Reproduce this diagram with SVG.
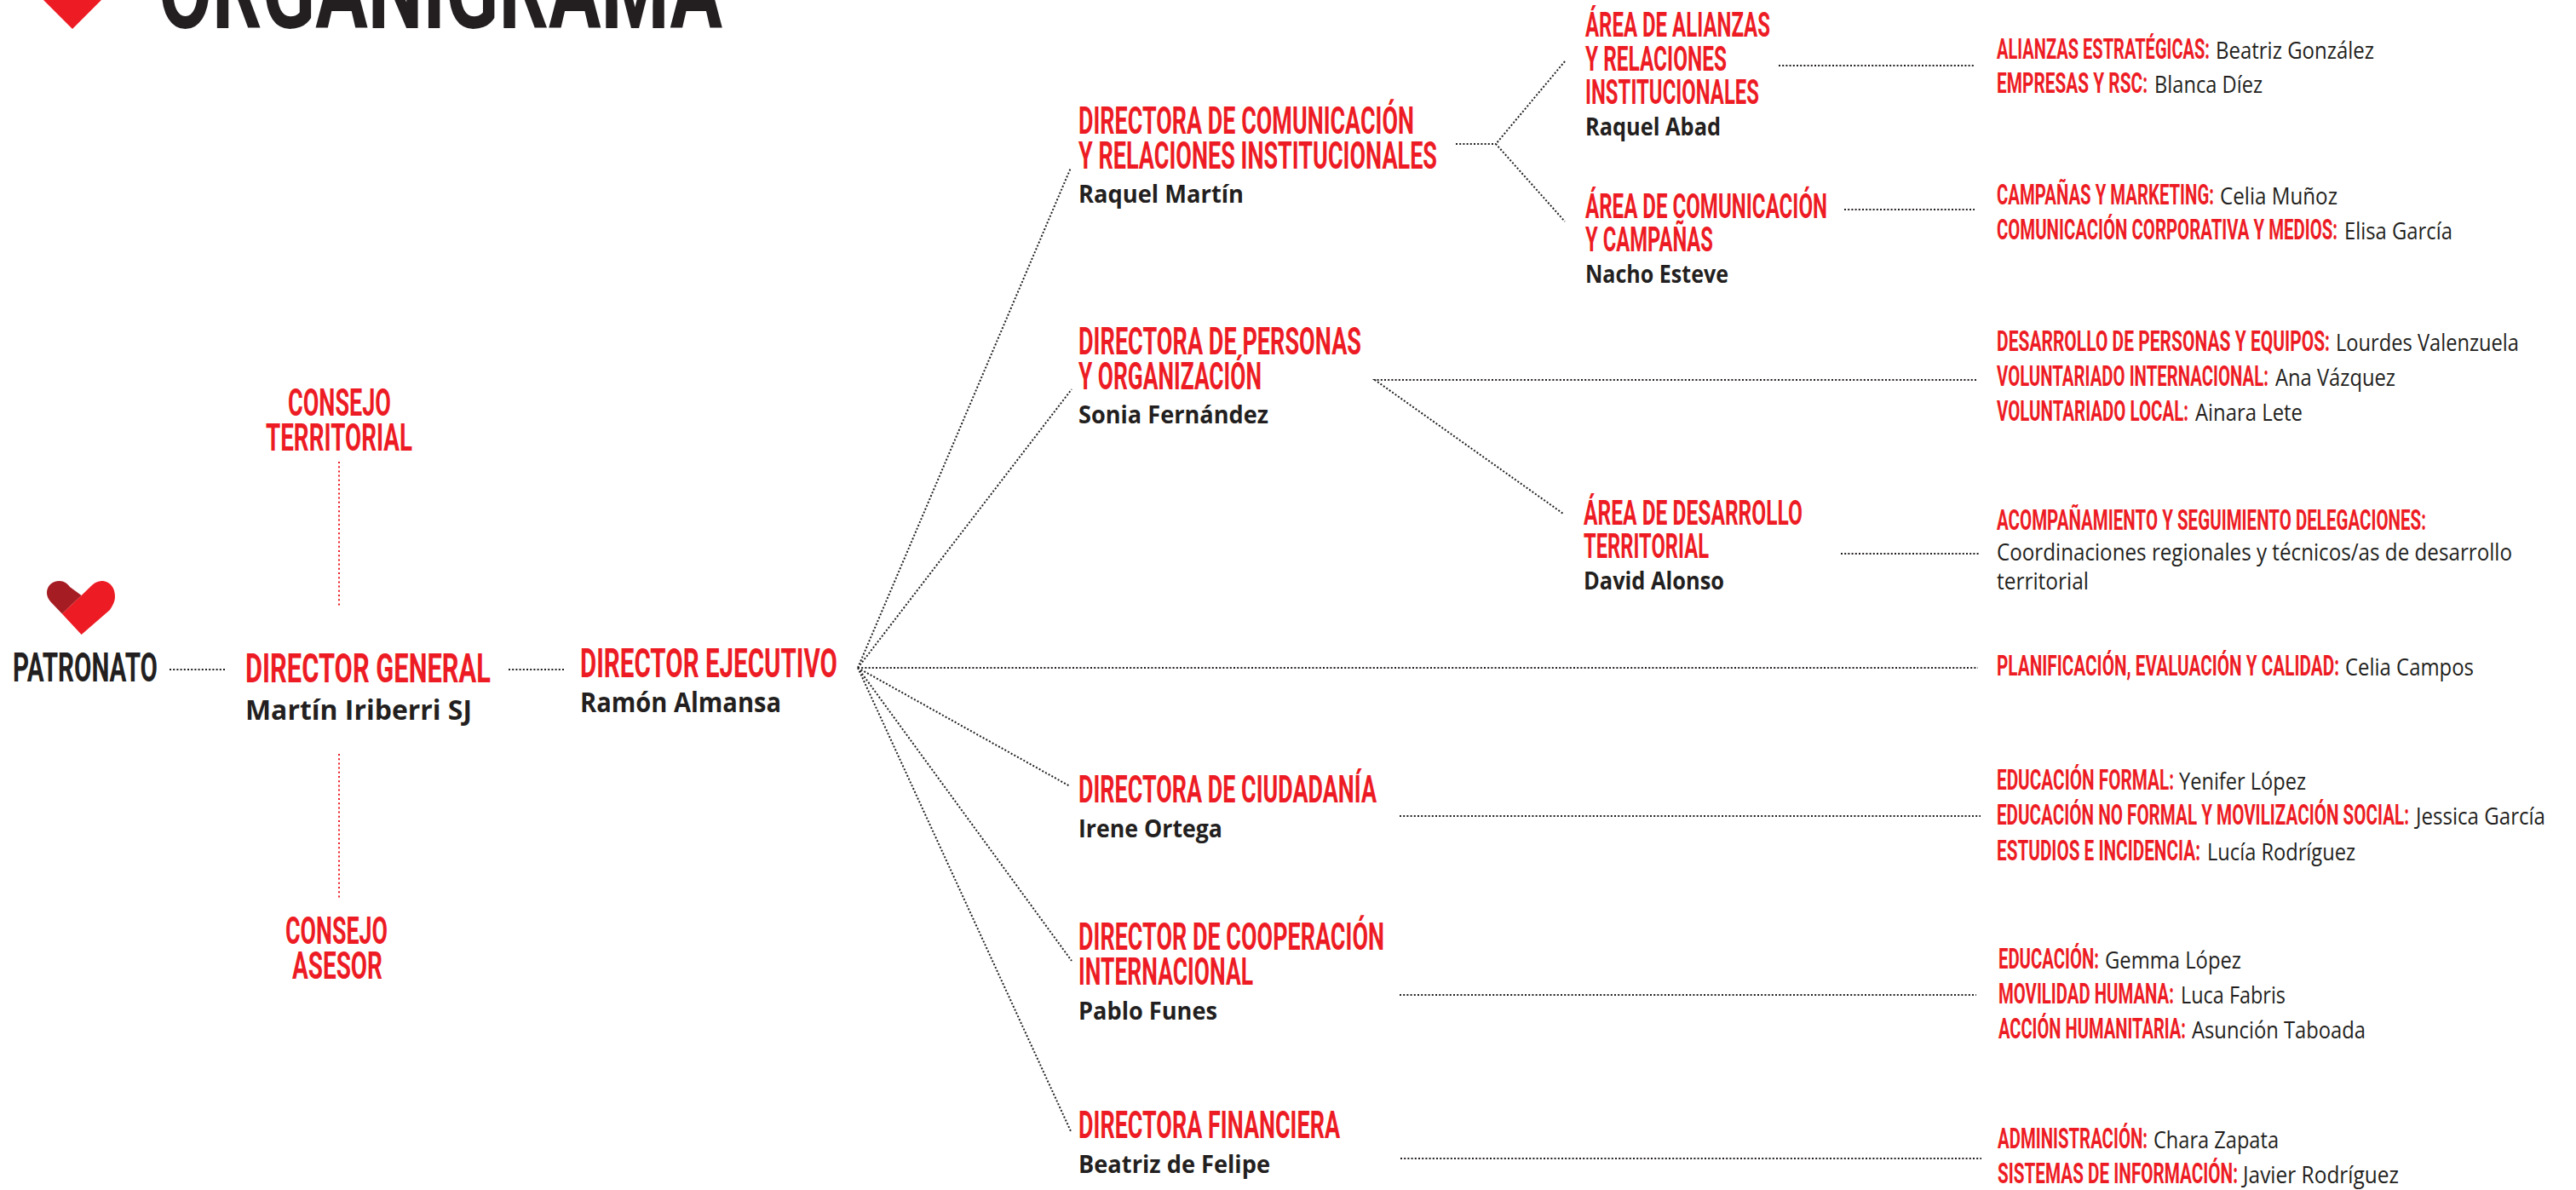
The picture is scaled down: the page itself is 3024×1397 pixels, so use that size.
<svg xmlns="http://www.w3.org/2000/svg" width="3024" height="1397" viewBox="0 0 3024 1397">
<style>
text{white-space:pre}
.h{font-family:"Roboto","Liberation Sans",sans-serif;font-weight:700;fill:#ed1c24}
.k{fill:#231f20}
.s1{font-size:49px}.s2{font-size:44px}.s3{font-size:40px}.s4{font-size:33px}
.n{font-family:"Open Sans","Liberation Sans",sans-serif;font-weight:700;fill:#231f20}
.l{font-family:"Open Sans","Liberation Sans",sans-serif;font-weight:400;fill:#231f20;font-size:27px}
.r{font-family:"Roboto","Liberation Sans",sans-serif;font-weight:700;fill:#ed1c24;font-size:33px}
.d{fill:none;stroke:#231f20;stroke-width:2;stroke-dasharray:2 2.2}
.dr{fill:none;stroke:#ed1c24;stroke-width:2;stroke-dasharray:2 3.2}
</style>
<rect width="3024" height="1397" fill="#ffffff"/>
<g id="titulo">
<path d="M51 0L85 34L119 0L130 -20L40 -20Z" fill="#ed1c24"/>
<text class="h k" x="186" y="33" font-size="130" textLength="662" lengthAdjust="spacingAndGlyphs">ORGANIGRAMA</text>
</g>
<g id="conectores">
<path class="d" d="M199 786H266M597 786H663"/>
<path class="dr" d="M398 542V713M398 885V1056"/>
<path class="d" d="M1007 784H2322M1007 784L1257 197M1007 784L1258 457M1007 784L1256 923M1007 784L1258 1128M1007 784L1257 1328"/>
<path class="d" d="M1709 169H1756M1837 72L1756 169L1837 260"/>
<path class="d" d="M2088 77H2318M2165 246H2318"/>
<path class="d" d="M2320 446H1614L1835 603"/>
<path class="d" d="M2161 650H2323M1643 958H2325M1643 1168H2320M1644 1360H2326"/>
</g>
<g id="patronato">
<path d="M95.6 745L72.8 720.6L95.6 699L108 687C112 683 117 682 121 682C130 683 135 691 135 700C135 707 132 711 129 716Z" fill="#ed1c24"/>
<path d="M95.6 699L72.8 720.6L59 706C56 702 55 699 55 696C55 688 61 682 70 682C75 682 79 685 82 689Z" fill="#a51c22"/>
<text class="h k s1" x="15" y="800" textLength="170" lengthAdjust="spacingAndGlyphs">PATRONATO</text>
</g>
<g id="consejo-territorial">
<text class="h s2" x="338" y="488" textLength="121" lengthAdjust="spacingAndGlyphs">CONSEJO</text>
<text class="h s2" x="312" y="529" textLength="172" lengthAdjust="spacingAndGlyphs">TERRITORIAL</text>
</g>
<g id="consejo-asesor">
<text class="h s2" x="335" y="1108" textLength="120" lengthAdjust="spacingAndGlyphs">CONSEJO</text>
<text class="h s2" x="343" y="1149" textLength="106" lengthAdjust="spacingAndGlyphs">ASESOR</text>
</g>
<g id="director-general">
<text class="h s1" x="288" y="801" textLength="288" lengthAdjust="spacingAndGlyphs">DIRECTOR GENERAL</text>
<text class="n" font-size="33" x="288" y="845" textLength="266" lengthAdjust="spacingAndGlyphs">Martín Iriberri SJ</text>
</g>
<g id="director-ejecutivo">
<text class="h s1" x="681" y="795" textLength="302" lengthAdjust="spacingAndGlyphs">DIRECTOR EJECUTIVO</text>
<text class="n" font-size="33" x="681" y="836" textLength="236" lengthAdjust="spacingAndGlyphs">Ramón Almansa</text>
</g>
<g id="directora-comunicacion">
<text class="h s2" x="1266" y="157" textLength="394" lengthAdjust="spacingAndGlyphs">DIRECTORA DE COMUNICACIÓN</text>
<text class="h s2" x="1266" y="198" textLength="421" lengthAdjust="spacingAndGlyphs">Y RELACIONES INSTITUCIONALES</text>
<text class="n" font-size="29" x="1266" y="238" textLength="194" lengthAdjust="spacingAndGlyphs">Raquel Martín</text>
</g>
<g id="directora-personas">
<text class="h s2" x="1266" y="416" textLength="332" lengthAdjust="spacingAndGlyphs">DIRECTORA DE PERSONAS</text>
<text class="h s2" x="1266" y="457" textLength="215" lengthAdjust="spacingAndGlyphs">Y ORGANIZACIÓN</text>
<text class="n" font-size="29" x="1266" y="497" textLength="223" lengthAdjust="spacingAndGlyphs">Sonia Fernández</text>
</g>
<g id="directora-ciudadania">
<text class="h s2" x="1266" y="942" textLength="350" lengthAdjust="spacingAndGlyphs">DIRECTORA DE CIUDADANÍA</text>
<text class="n" font-size="29" x="1266" y="983" textLength="169" lengthAdjust="spacingAndGlyphs">Irene Ortega</text>
</g>
<g id="director-cooperacion">
<text class="h s2" x="1266" y="1115" textLength="359" lengthAdjust="spacingAndGlyphs">DIRECTOR DE COOPERACIÓN</text>
<text class="h s2" x="1266" y="1156" textLength="205" lengthAdjust="spacingAndGlyphs">INTERNACIONAL</text>
<text class="n" font-size="29" x="1266" y="1197" textLength="163" lengthAdjust="spacingAndGlyphs">Pablo Funes</text>
</g>
<g id="directora-financiera">
<text class="h s2" x="1266" y="1336" textLength="307" lengthAdjust="spacingAndGlyphs">DIRECTORA FINANCIERA</text>
<text class="n" font-size="29" x="1266" y="1377" textLength="225" lengthAdjust="spacingAndGlyphs">Beatriz de Felipe</text>
</g>
<g id="area-alianzas">
<text class="h s3" x="1861" y="43" textLength="217" lengthAdjust="spacingAndGlyphs">ÁREA DE ALIANZAS</text>
<text class="h s3" x="1861" y="83" textLength="166" lengthAdjust="spacingAndGlyphs">Y RELACIONES</text>
<text class="h s3" x="1861" y="122" textLength="204" lengthAdjust="spacingAndGlyphs">INSTITUCIONALES</text>
<text class="n" font-size="28" x="1861" y="159" textLength="159" lengthAdjust="spacingAndGlyphs">Raquel Abad</text>
</g>
<g id="area-comunicacion">
<text class="h s3" x="1861" y="256" textLength="284" lengthAdjust="spacingAndGlyphs">ÁREA DE COMUNICACIÓN</text>
<text class="h s3" x="1861" y="295" textLength="150" lengthAdjust="spacingAndGlyphs">Y CAMPAÑAS</text>
<text class="n" font-size="28" x="1861" y="332" textLength="168" lengthAdjust="spacingAndGlyphs">Nacho Esteve</text>
</g>
<g id="area-desarrollo">
<text class="h s3" x="1859" y="616" textLength="257" lengthAdjust="spacingAndGlyphs">ÁREA DE DESARROLLO</text>
<text class="h s3" x="1859" y="655" textLength="147" lengthAdjust="spacingAndGlyphs">TERRITORIAL</text>
<text class="n" font-size="28" x="1859" y="692" textLength="165" lengthAdjust="spacingAndGlyphs">David Alonso</text>
</g>
<g id="equipos-alianzas">
<text y="69"><tspan class="r" x="2344" textLength="250" lengthAdjust="spacingAndGlyphs">ALIANZAS ESTRATÉGICAS:</tspan><tspan class="l" x="2601" textLength="186" lengthAdjust="spacingAndGlyphs">Beatriz González</tspan></text>
<text y="109"><tspan class="r" x="2344" textLength="177" lengthAdjust="spacingAndGlyphs">EMPRESAS Y RSC:</tspan><tspan class="l" x="2529" textLength="127" lengthAdjust="spacingAndGlyphs">Blanca Díez</tspan></text>
</g>
<g id="equipos-comunicacion">
<text y="240"><tspan class="r" x="2344" textLength="255" lengthAdjust="spacingAndGlyphs">CAMPAÑAS Y MARKETING:</tspan><tspan class="l" x="2606" textLength="138" lengthAdjust="spacingAndGlyphs">Celia Muñoz</tspan></text>
<text y="281"><tspan class="r" x="2344" textLength="400" lengthAdjust="spacingAndGlyphs">COMUNICACIÓN CORPORATIVA Y MEDIOS:</tspan><tspan class="l" x="2752" textLength="127" lengthAdjust="spacingAndGlyphs">Elisa García</tspan></text>
</g>
<g id="equipos-personas">
<text y="412"><tspan class="r" x="2344" textLength="391" lengthAdjust="spacingAndGlyphs">DESARROLLO DE PERSONAS Y EQUIPOS:</tspan><tspan class="l" x="2742" textLength="215" lengthAdjust="spacingAndGlyphs">Lourdes Valenzuela</tspan></text>
<text y="453"><tspan class="r" x="2344" textLength="319" lengthAdjust="spacingAndGlyphs">VOLUNTARIADO INTERNACIONAL:</tspan><tspan class="l" x="2671" textLength="141" lengthAdjust="spacingAndGlyphs">Ana Vázquez</tspan></text>
<text y="494"><tspan class="r" x="2344" textLength="225" lengthAdjust="spacingAndGlyphs">VOLUNTARIADO LOCAL:</tspan><tspan class="l" x="2577" textLength="126" lengthAdjust="spacingAndGlyphs">Ainara Lete</tspan></text>
</g>
<g id="equipos-desarrollo">
<text class="r" x="2344" y="622" textLength="504" lengthAdjust="spacingAndGlyphs">ACOMPAÑAMIENTO Y SEGUIMIENTO DELEGACIONES:</text>
<text class="l" x="2344" y="658" textLength="605" lengthAdjust="spacingAndGlyphs">Coordinaciones regionales y técnicos/as de desarrollo</text>
<text class="l" x="2344" y="692" textLength="108" lengthAdjust="spacingAndGlyphs">territorial</text>
</g>
<g id="planificacion">
<text y="793"><tspan class="r" x="2344" textLength="402" lengthAdjust="spacingAndGlyphs">PLANIFICACIÓN, EVALUACIÓN Y CALIDAD:</tspan><tspan class="l" x="2753" textLength="151" lengthAdjust="spacingAndGlyphs">Celia Campos</tspan></text>
</g>
<g id="equipos-ciudadania">
<text y="927"><tspan class="r" x="2344" textLength="208" lengthAdjust="spacingAndGlyphs">EDUCACIÓN FORMAL:</tspan><tspan class="l" x="2558" textLength="149" lengthAdjust="spacingAndGlyphs">Yenifer López</tspan></text>
<text y="968"><tspan class="r" x="2344" textLength="484" lengthAdjust="spacingAndGlyphs">EDUCACIÓN NO FORMAL Y MOVILIZACIÓN SOCIAL:</tspan><tspan class="l" x="2836" textLength="152" lengthAdjust="spacingAndGlyphs">Jessica García</tspan></text>
<text y="1010"><tspan class="r" x="2344" textLength="239" lengthAdjust="spacingAndGlyphs">ESTUDIOS E INCIDENCIA:</tspan><tspan class="l" x="2591" textLength="174" lengthAdjust="spacingAndGlyphs">Lucía Rodríguez</tspan></text>
</g>
<g id="equipos-cooperacion">
<text y="1137"><tspan class="r" x="2346" textLength="118" lengthAdjust="spacingAndGlyphs">EDUCACIÓN:</tspan><tspan class="l" x="2471" textLength="160" lengthAdjust="spacingAndGlyphs">Gemma López</tspan></text>
<text y="1178"><tspan class="r" x="2346" textLength="206" lengthAdjust="spacingAndGlyphs">MOVILIDAD HUMANA:</tspan><tspan class="l" x="2560" textLength="123" lengthAdjust="spacingAndGlyphs">Luca Fabris</tspan></text>
<text y="1219"><tspan class="r" x="2346" textLength="220" lengthAdjust="spacingAndGlyphs">ACCIÓN HUMANITARIA:</tspan><tspan class="l" x="2573" textLength="204" lengthAdjust="spacingAndGlyphs">Asunción Taboada</tspan></text>
</g>
<g id="equipos-financiera">
<text y="1348"><tspan class="r" x="2345" textLength="176" lengthAdjust="spacingAndGlyphs">ADMINISTRACIÓN:</tspan><tspan class="l" x="2528" textLength="147" lengthAdjust="spacingAndGlyphs">Chara Zapata</tspan></text>
<text y="1389"><tspan class="r" x="2345" textLength="282" lengthAdjust="spacingAndGlyphs">SISTEMAS DE INFORMACIÓN:</tspan><tspan class="l" x="2633" textLength="183" lengthAdjust="spacingAndGlyphs">Javier Rodríguez</tspan></text>
</g>
</svg>
